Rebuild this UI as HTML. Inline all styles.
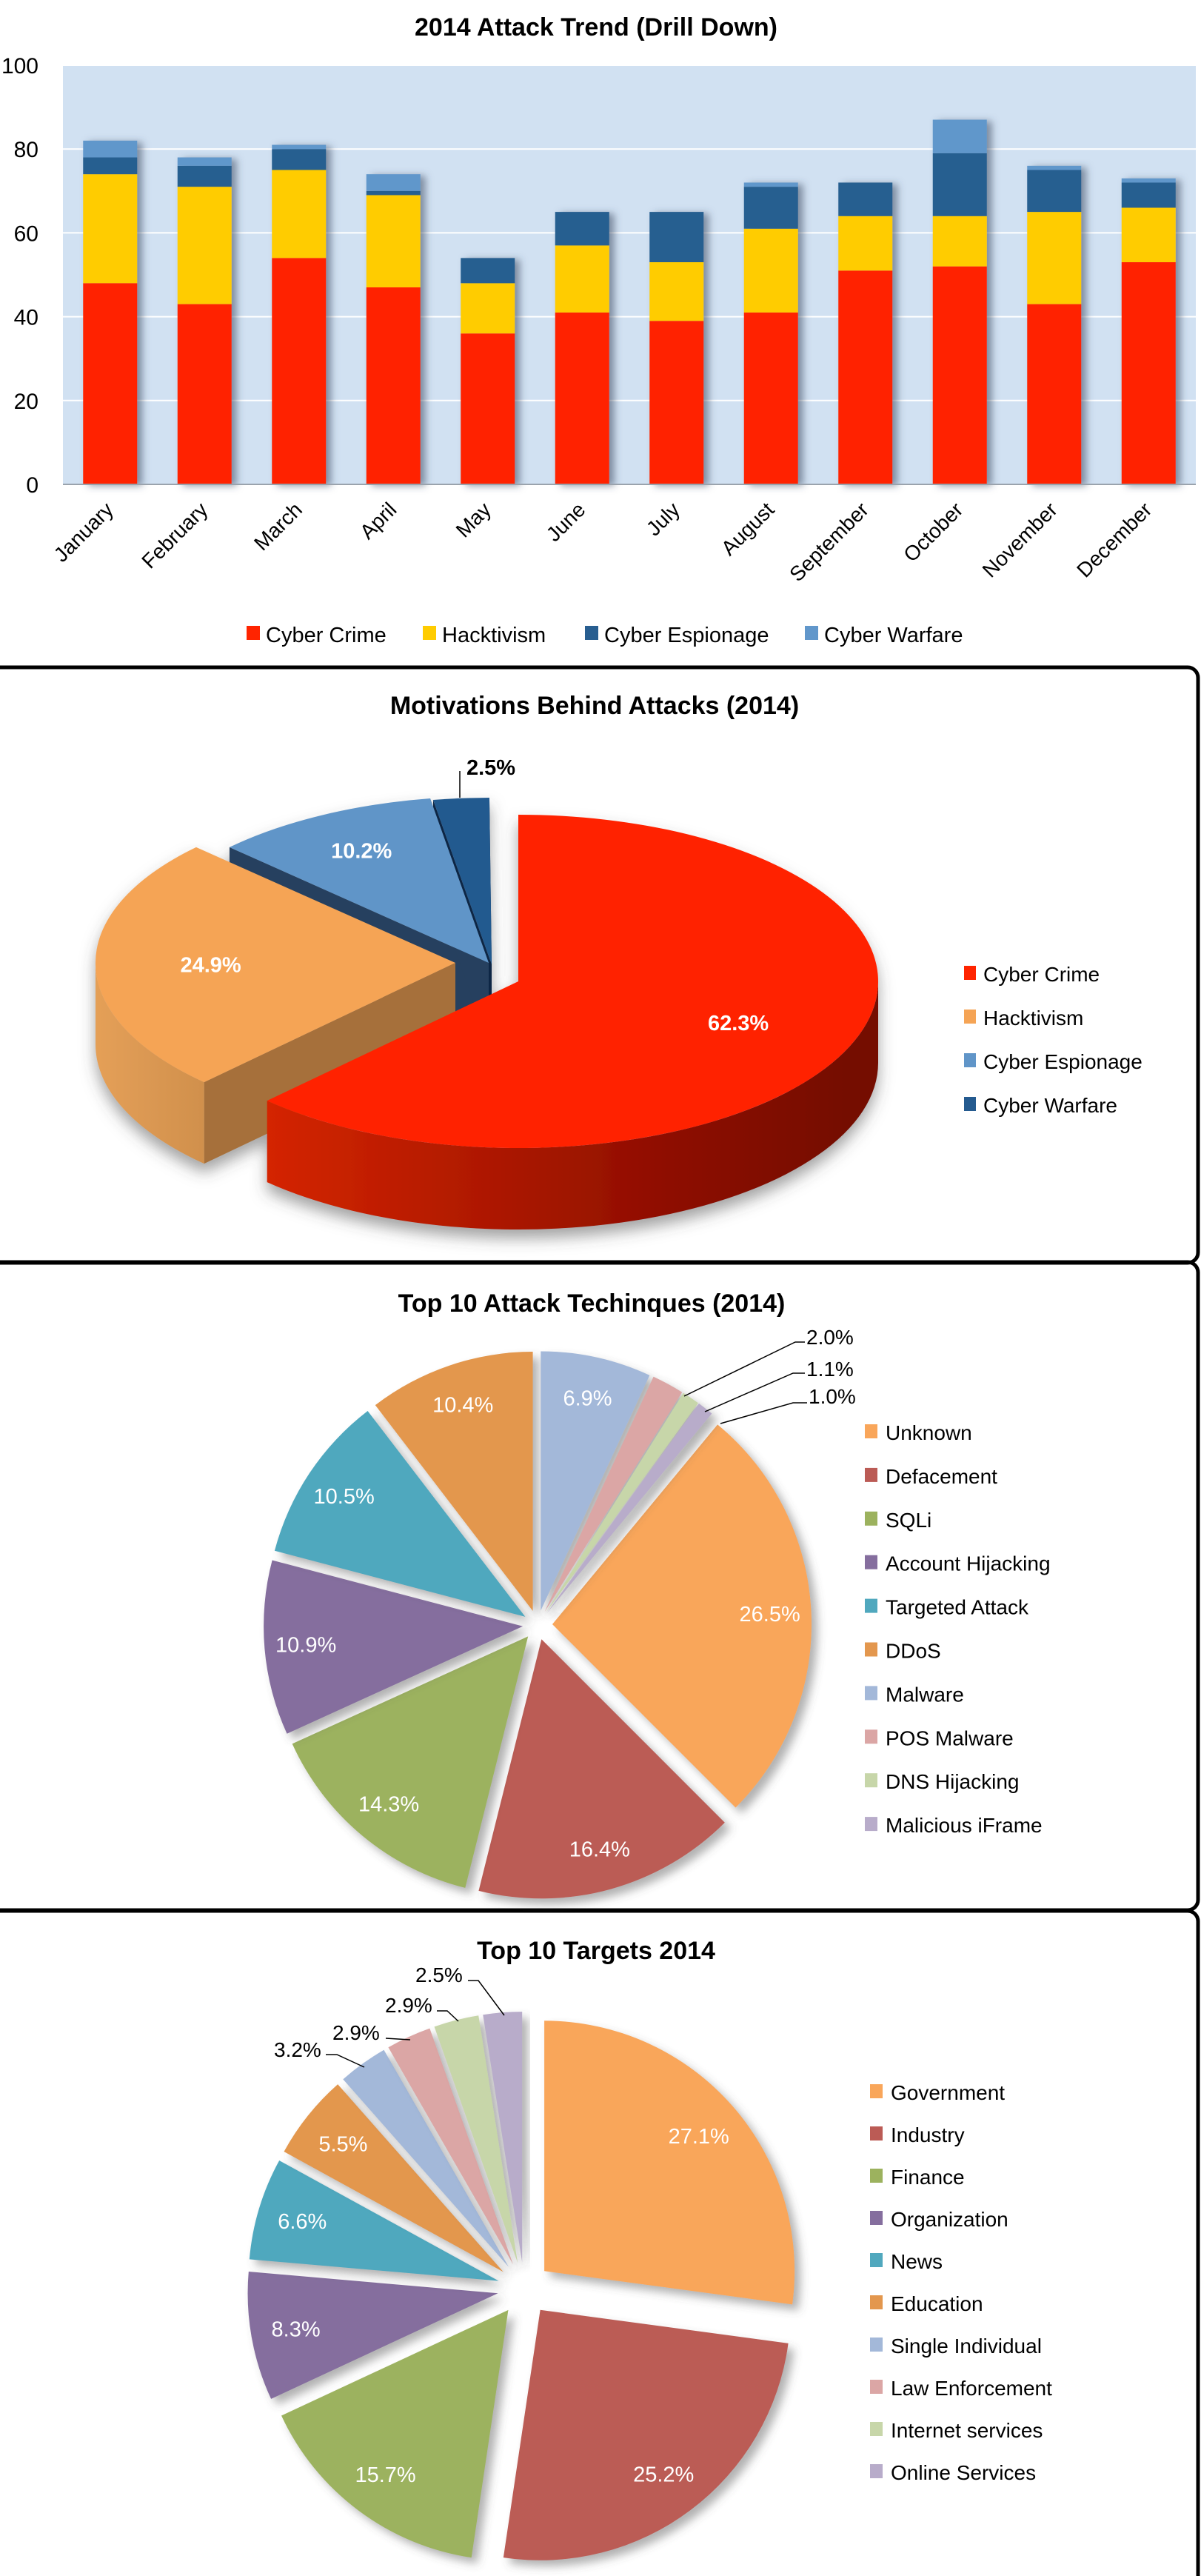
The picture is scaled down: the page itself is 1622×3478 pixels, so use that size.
<!DOCTYPE html>
<html><head><meta charset="utf-8"><title>2014 Attack Statistics</title>
<style>
html,body{margin:0;padding:0;background:#fff;}
svg{display:block;font-family:"Liberation Sans",sans-serif;}
</style></head>
<body>
<svg id="root" width="1622" height="3478" viewBox="0 0 1622 3478" xmlns="http://www.w3.org/2000/svg">
<defs>
<filter id="barShadow" x="-20%" y="-5%" width="160%" height="110%"><feDropShadow dx="7" dy="2" stdDeviation="5" flood-color="#3a4a60" flood-opacity="0.55"/></filter>
<filter id="pieShadow" x="-10%" y="-10%" width="130%" height="130%"><feDropShadow dx="8" dy="8" stdDeviation="6" flood-color="#555" flood-opacity="0.45"/></filter>
<filter id="pie3dShadow" x="-10%" y="-10%" width="130%" height="130%"><feDropShadow dx="0" dy="12" stdDeviation="10" flood-color="#444" flood-opacity="0.5"/></filter>
<linearGradient id="redWall" gradientUnits="userSpaceOnUse" x1="330" y1="0" x2="1150" y2="0"><stop offset="0" stop-color="#D82600"/><stop offset="0.7" stop-color="#8E0E00"/><stop offset="1" stop-color="#740800"/></linearGradient>
<linearGradient id="orangeWall" gradientUnits="userSpaceOnUse" x1="125" y1="0" x2="330" y2="0"><stop offset="0" stop-color="#E5A058"/><stop offset="1" stop-color="#C98A48"/></linearGradient>
</defs>

<!-- panel frames -->
<rect x="-20" y="901" width="1638" height="804" rx="14" fill="none" stroke="#000" stroke-width="5"/>
<rect x="-20" y="1704" width="1638" height="875" rx="14" fill="none" stroke="#000" stroke-width="5"/>
<rect x="-20" y="2580" width="1638" height="920" rx="14" fill="none" stroke="#000" stroke-width="5"/>

<g id="bar"></g>
<g id="pie2"></g>
<g id="pie3"></g>
<g id="pie4"></g>
</svg>

<script>
// ===== Bar chart data =====
const months = ["January","February","March","April","May","June","July","August","September","October","November","December"];
const cyberCrime = [48,43,54,47,36,41,39,41,51,52,43,53];
const hacktivism = [26,28,21,22,12,16,14,20,13,12,22,13];
const cyberEspionage = [4,5,5,1,6,8,12,10,8,15,10,6];
const cyberWarfare = [4,2,1,4,0,0,0,1,0,8,1,1];
const barSeriesNames = ["Cyber Crime","Hacktivism","Cyber Espionage","Cyber Warfare"];
const yTicks = [0,20,40,60,80,100];

// ===== Motivations data =====
const motiveLabels = ["Cyber Crime","Hacktivism","Cyber Espionage","Cyber Warfare"];
const motiveValues = [62.3,24.9,10.2,2.5];

// ===== Techniques data =====
const techLabels = ["Unknown","Defacement","SQLi","Account Hijacking","Targeted Attack","DDoS","Malware","POS Malware","DNS Hijacking","Malicious iFrame"];
const techValues = [26.5,16.4,14.3,10.9,10.5,10.4,6.9,2.0,1.1,1.0];

// ===== Targets data =====
const targetLabels = ["Government","Industry","Finance","Organization","News","Education","Single Individual","Law Enforcement","Internet services","Online Services"];
const targetValues = [27.1,25.2,15.7,8.3,6.6,5.5,3.2,2.9,2.9,2.5];

const NS = "http://www.w3.org/2000/svg";
function mk(parent, tag, attrs, text){
  const el = document.createElementNS(NS, tag);
  for (const k in attrs) el.setAttribute(k, attrs[k]);
  if (text !== undefined) el.textContent = text;
  parent.appendChild(el);
  return el;
}
const rad = d => d*Math.PI/180;

// ================= BAR CHART =================
(function(){
  const g = document.getElementById('bar');
  const PL=85, PR=1615, PT=88, PB=654;
  const band = (PR-PL)/months.length;
  const bw = 73;
  const y = v => PB - v*(PB-PT)/100;
  const xBand = i => PL + i*band;
  let t = mk(g,'text',{x:805,y:48,'text-anchor':'middle','font-size':34,'font-weight':'bold',fill:'#000'},'2014 Attack Trend (Drill Down)');
  
  
  let bg = mk(g,'rect',{x:PL,y:PT,width:PR-PL,height:PB-PT,fill:'#D1E1F2'});
  
  
  yTicks.forEach(v=>{
    if (v>0){
      const gl = mk(g,'line',{x1:PL,x2:PR,y1:y(v),y2:y(v),stroke:'#fff','stroke-width':2});
      
      
    }
    const tl = mk(g,'text',{x:52,y:y(v)+11,'text-anchor':'end','font-size':30,fill:'#000'},String(v));
    
    
  });
  const series=[cyberCrime,hacktivism,cyberEspionage,cyberWarfare];
  const colors=['#FF2400','#FFCC00','#285E90','#6197CB'];
  months.forEach((m,i)=>{
    const bgp = mk(g,'g',{filter:'url(#barShadow)'});
    
    
    let cum=0;
    series.forEach((s,k)=>{
      if (s[i]<=0) return;
      const r = mk(bgp,'rect',{x:xBand(i)+(band-bw)/2,y:y(cum+s[i]),width:bw,height:y(cum)-y(cum+s[i]),fill:colors[k]});
      
      
      cum+=s[i];
    });
    const cx = xBand(i)+band/2+6, cy=690;
    const lb = mk(g,'text',{x:cx,y:cy,'text-anchor':'end','font-size':28,fill:'#000',transform:`rotate(-45 ${cx} ${cy})`},m);
    
    
  });
  const ax = mk(g,'line',{x1:PL,x2:PR,y1:PB,y2:PB,stroke:'#9aa3ad','stroke-width':2});
  
  
  const lx=[333,571,790,1087];
  barSeriesNames.forEach((n,k)=>{
    const sq = mk(g,'rect',{x:lx[k],y:845,width:18,height:19,fill:colors[k]});
    
    
    const tx = mk(g,'text',{x:lx[k]+26,y:867,'font-size':29,fill:'#000'},n);
    
    
  });
})();

// ================= 3D PIE (Motivations) =================
(function(){
  const g = document.getElementById('pie2');
  const t = mk(g,'text',{x:803,y:964,'text-anchor':'middle','font-size':34,'font-weight':'bold',fill:'#000'},'Motivations Behind Attacks (2014)');
  
  
  const RX=486, RY=225, D=110;
  const centers=[[700,1325],[615,1300],[660,1300],[664,1302]];
  const topCol=['#FF2400','#F5A455','#6095C8','#245A8F'];
  const wallCol=['url(#redWall)','url(#orangeWall)','#3D6E9E','#12345A'];
  const faceCol=['#8A1200','#A6703A','#27415E','#0D2744'];
  const P=(c,a,dz)=>[c[0]+RX*Math.sin(rad(a)), c[1]-RY*Math.cos(rad(a))+(dz||0)];
  let acc=0;
  const slices = motiveValues.map((v,i)=>{const a0=acc*3.6; acc+=v; return {i,a0,a1:acc*3.6};});
  const order=[3,2,1,0];
  const pg = mk(g,'g',{filter:'url(#pie3dShadow)'});
  
  
  order.forEach(i=>{
    const s=slices[i], c=centers[i];
    const sg = mk(pg,'g',{});
    
    
    // radial faces
    [[s.a0,s.a0-90],[s.a1,s.a1+90]].forEach(([a,n])=>{
      if (-Math.cos(rad(n)) > -0.2){
        const p=P(c,a);
        const f = mk(sg,'path',{d:`M${c[0]},${c[1]} L${p[0]},${p[1]} L${p[0]},${p[1]+D} L${c[0]},${c[1]+D} Z`,fill:faceCol[i]});
        
        
      }
    });
    // outer wall
    const s0=Math.max(s.a0,90), e0=Math.min(s.a1,270);
    if (s0<e0){
      const a=P(c,s0), b=P(c,e0);
      const w = mk(sg,'path',{d:`M${a[0]},${a[1]} A${RX},${RY} 0 0 1 ${b[0]},${b[1]} L${b[0]},${b[1]+D} A${RX},${RY} 0 0 0 ${a[0]},${a[1]+D} Z`,fill:wallCol[i]});
      
      
    }
    const a=P(c,s.a0), b=P(c,s.a1);
    const large = (s.a1-s.a0)>180?1:0;
    const tp = mk(sg,'path',{d:`M${c[0]},${c[1]} L${a[0]},${a[1]} A${RX},${RY} 0 ${large} 1 ${b[0]},${b[1]} Z`,fill:topCol[i]});
    
    
  });
  // labels
  const frac=[0.66,0.68,0.76,0];
  slices.forEach(s=>{
    const i=s.i;
    const txt=motiveValues[i].toFixed(1)+'%';
    if (frac[i]===0){
      const ln = mk(g,'line',{x1:621,y1:1041,x2:621,y2:1077,stroke:'#000','stroke-width':1.5});
      
      
      const tt = mk(g,'text',{x:663,y:1046,'text-anchor':'middle','font-size':29,'font-weight':'bold',fill:'#000'},txt);
      
      
      return;
    }
    const m=(s.a0+s.a1)/2, c=centers[i];
    const x=c[0]+RX*frac[i]*Math.sin(rad(m)), y=c[1]-RY*frac[i]*Math.cos(rad(m));
    const tt = mk(g,'text',{x:x,y:y+10,'text-anchor':'middle','font-size':29,'font-weight':'bold',fill:'#fff'},txt);
    
    
  });
  const cols=['#FF2400','#F5A455','#6095C8','#245A8F'];
  const ly=[1315,1374,1433,1492];
  motiveLabels.forEach((n,k)=>{
    const sq = mk(g,'rect',{x:1302,y:ly[k]-11,width:16,height:19,fill:cols[k]});
    
    
    const tx = mk(g,'text',{x:1328,y:ly[k]+10,'font-size':28,fill:'#000'},n);
    
    
  });
})();

// ================= FLAT EXPLODED PIE helper =================
function flatPie(g, opts, labels, values, colors){
  const {cx,cy,r,start,explode,labelFrac,legendX,legendY,legendStep} = opts;
  let acc=0;
  const total = values.reduce((a,b)=>a+b,0);
  values.forEach((v,i)=>{
    const a0=start+acc/total*360; acc+=v; const a1=start+acc/total*360;
    const m=(a0+a1)/2;
    const ax=cx+explode*Math.sin(rad(m)), ay=cy-explode*Math.cos(rad(m));
    const p0=[ax+r*Math.sin(rad(a0)), ay-r*Math.cos(rad(a0))];
    const p1=[ax+r*Math.sin(rad(a1)), ay-r*Math.cos(rad(a1))];
    const large=(a1-a0)>180?1:0;
    const sl = mk(g,'path',{d:`M${ax},${ay} L${p0[0]},${p0[1]} A${r},${r} 0 ${large} 1 ${p1[0]},${p1[1]} Z`,fill:colors[i],filter:'url(#pieShadow)'});
    
    
    if (v>=4){
      const lx=ax+r*labelFrac*Math.sin(rad(m)), ly=ay-r*labelFrac*Math.cos(rad(m));
      const tt = mk(g,'text',{x:lx,y:ly+10,'text-anchor':'middle','font-size':29,fill:'#fff'},v.toFixed(1)+'%');
      
      
    }
  });
  labels.forEach((n,k)=>{
    const y=legendY+k*legendStep;
    const sq = mk(g,'rect',{x:legendX,y:y-11,width:17,height:19,fill:colors[k]});
    
    
    const tx = mk(g,'text',{x:legendX+28,y:y+10,'font-size':28,fill:'#000'},n);
    
    
  });
}
function outsideLabel(g, text, tx, ty, pts){
  const pl = mk(g,'polyline',{points:pts.map(p=>p.join(',')).join(' '),fill:'none',stroke:'#000','stroke-width':1.5});
  
  
  const t = mk(g,'text',{x:tx,y:ty,'font-size':28,fill:'#000'},text);
  
  
}

// ================= Techniques =================
(function(){
  const g = document.getElementById('pie3');
  const t = mk(g,'text',{x:799,y:1771,'text-anchor':'middle','font-size':34,'font-weight':'bold',fill:'#000'},'Top 10 Attack Techinques (2014)');
  
  
  const colors=['#F9A65A','#BB5B55','#9CB25E','#856E9E','#50A8BE','#E3974E','#A3B8D9','#DBA6A5','#C7D6A9','#B8ACCA'];
  flatPie(g,{cx:726,cy:2194,r:350,start:39.6,explode:20,labelFrac:0.84,legendX:1168,legendY:1934,legendStep:58.9},techLabels,techValues,colors);
  outsideLabel(g, techValues[7].toFixed(1)+'%', 1089, 1815, [[1087,1812],[1074,1812],[924,1885]]);
  outsideLabel(g, techValues[8].toFixed(1)+'%', 1089, 1858, [[1087,1854],[1071,1854],[952,1906]]);
  outsideLabel(g, techValues[9].toFixed(1)+'%', 1092, 1895, [[1090,1894],[1071,1894],[973,1922]]);
})();

// ================= Targets =================
(function(){
  const g = document.getElementById('pie4');
  const t = mk(g,'text',{x:805,y:2645,'text-anchor':'middle','font-size':34,'font-weight':'bold',fill:'#000'},'Top 10 Targets 2014');
  
  
  const colors=['#F9A65A','#BB5B55','#9CB25E','#856E9E','#50A8BE','#E3974E','#A3B8D9','#DBA6A5','#C7D6A9','#B8ACCA'];
  flatPie(g,{cx:708,cy:3090,r:338,start:0,explode:36,labelFrac:0.82,legendX:1175,legendY:2825,legendStep:57},targetLabels,targetValues,colors);
  outsideLabel(g, targetValues[6].toFixed(1)+'%', 370, 2777, [[440,2774],[455,2774],[492,2791]]);
  outsideLabel(g, targetValues[7].toFixed(1)+'%', 449, 2754, [[521,2752],[554,2754]]);
  outsideLabel(g, targetValues[8].toFixed(1)+'%', 520, 2717, [[590,2715],[604,2715],[619,2729]]);
  outsideLabel(g, targetValues[9].toFixed(1)+'%', 561, 2676, [[632,2674],[646,2674],[681,2721]]);
})();
</script>
</body></html>
